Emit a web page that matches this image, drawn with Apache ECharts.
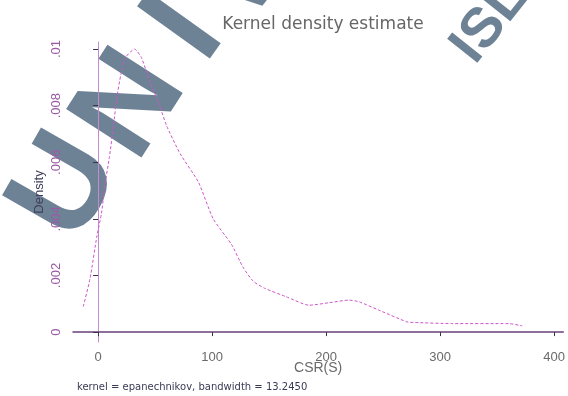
<!DOCTYPE html>
<html>
<head>
<meta charset="utf-8">
<script src="https://cdn.jsdelivr.net/npm/echarts@6/dist/echarts.min.js"></script>
<style>
html,body{margin:0;padding:0;background:#fff;}
#chart{width:568px;height:396px;}
</style>
</head>
<body>
<div id="chart"></div>
<script>
// Data
const csr = [-13, -7, -1, 3, 6, 10, 13.5, 16.5, 20, 24, 32, 38, 45, 54, 60, 72, 88, 101, 117, 127, 136, 146, 165, 185, 203, 220, 229, 246, 271, 278, 310, 360, 372];
const density = [0.0009, 0.0019, 0.0034, 0.0042, 0.0052, 0.0062, 0.0073, 0.0083, 0.0091, 0.0097, 0.0100, 0.0097, 0.0089, 0.0080, 0.0073, 0.0063, 0.0053, 0.0040, 0.0031, 0.0023, 0.0018, 0.00155, 0.00125, 0.00095, 0.00104, 0.00113, 0.00107, 0.00078, 0.00036, 0.00034, 0.0003, 0.0003, 0.00022];
const xTicks = [0, 100, 200, 300, 400];
const yTicks = [0, 0.002, 0.004, 0.006, 0.008, 0.01];
const yTickLabels = ['0', '.002', '.004', '.006', '.008', '.01'];
const titleText = 'Kernel density estimate';
const xName = 'CSR(S)';
const yName = 'Density';
const noteText = 'kernel = epanechnikov, bandwidth = 13.2450';

const chart = echarts.init(document.getElementById('chart'));
const font = 'Liberation Sans, Arial, sans-serif';
const wm = '#6e8296';
function wmText(t, x, y, rot, size) {
  return {type: 'text', x: x, y: y, rotation: rot, z: 0, zlevel: 0, silent: true,
    style: {text: t, fontFamily: font, fontSize: size, fontWeight: 'bold', fill: wm, align: 'center', verticalAlign: 'middle'}};
}

chart.setOption({
  animation: false,
  backgroundColor: '#ffffff',
  title: {
    text: titleText, left: 318, top: 11, textAlign: 'center', zlevel: 1,
    textStyle: {fontFamily: 'DejaVu Sans, sans-serif', fontSize: 17, fontWeight: 'normal', color: '#666666'}
  },
  grid: {left: 73, right: 3, top: 42, bottom: 54},
  xAxis: {
    type: 'value', min: -22, max: 408, zlevel: 1,
    splitLine: {show: false},
    axisLine: {show: true, lineStyle: {color: '#6a3f7a', width: 1.5}},
    axisTick: {show: true, length: 4, inside: false, customValues: xTicks, lineStyle: {color: '#3a3050'}},
    axisLabel: {customValues: xTicks, margin: 9, fontFamily: font, fontSize: 13, color: '#6a6a6a'},
    name: xName, nameLocation: 'middle', nameGap: 19, nameMoveOverlap: false,
    nameTextStyle: {fontFamily: font, fontSize: 14, color: '#6a6a6a'}
  },
  yAxis: {
    type: 'value', min: -0.00035, max: 0.01025, zlevel: 1,
    splitLine: {show: false},
    axisLine: {show: true, lineStyle: {color: '#c58ad0', width: 1}},
    axisTick: {show: true, length: 5, inside: false, customValues: yTicks, lineStyle: {color: '#3a3050'}},
    axisLabel: {
      customValues: yTicks, rotate: 90, margin: 10, fontFamily: font, fontSize: 13, color: '#9a5aa6',
      formatter: function (v) {
        const i = yTicks.findIndex(t => Math.abs(t - v) < 1e-9);
        return i >= 0 ? yTickLabels[i] : '';
      }
    },
    name: yName, nameLocation: 'middle', nameRotate: 90, nameGap: 27, nameMoveOverlap: false,
    nameTextStyle: {fontFamily: font, fontSize: 13, color: '#40405a'}
  },
  series: [{
    type: 'line', zlevel: 1,
    data: csr.map((x, i) => [x, density[i]]),
    showSymbol: false,
    smooth: 0.2,
    lineStyle: {color: '#cc55c8', width: 1, type: [3, 2]},
    z: 3
  }],
  graphic: [
    wmText('U', 68, 188, 1.05, 130),
    wmText('N', 132, 106, 1.0, 130),
    wmText('I', 186, 30, 0.95, 130),
    wmText('V', 240, -24, 0.9, 130),
    wmText('ISL', 490, 22, 0.9, 56),
    {type: 'text', left: 77, top: 382, zlevel: 1,
     style: {text: noteText, fontFamily: 'DejaVu Sans, sans-serif', fontSize: 10, fill: '#3a3a55'}}
  ]
});
</script>
</body>
</html>
